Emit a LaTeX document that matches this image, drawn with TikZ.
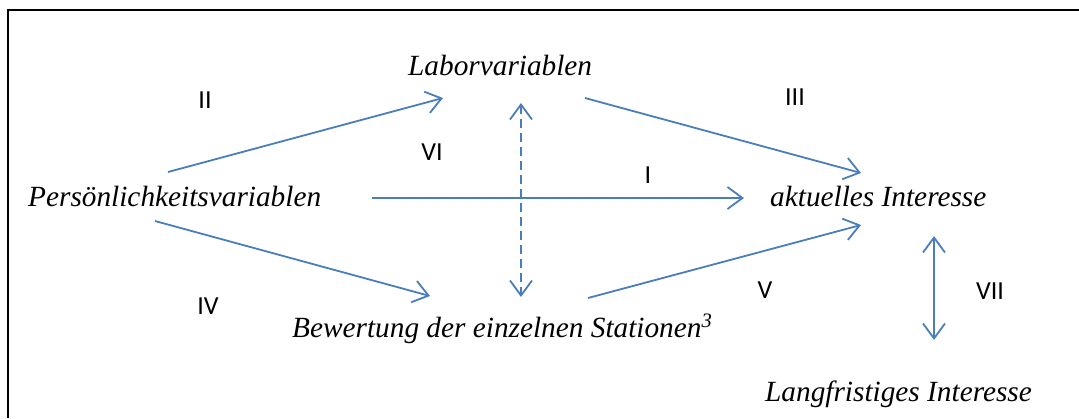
\documentclass[tikz,border=0pt]{standalone}
\usepackage{fontspec}
\setmainfont{Liberation Serif}
\newfontfamily\numfont{Carlito}
\usetikzlibrary{arrows.meta}
\definecolor{arrowblue}{HTML}{4A7EBB}
\tikzset{
  term/.style={inner sep=0pt, anchor=base west, font=\fontsize{29.3}{34}\selectfont\itshape},
  numlabel/.style={inner sep=0pt, font=\fontsize{26}{30}\selectfont\numfont},
  barb/.tip={Straight Barb[length=15pt,width=22pt,line width=1.8pt]},
  conn/.style={draw=arrowblue, line width=1.8pt, -barb},
  dconn/.style={draw=arrowblue, line width=1.8pt, barb-barb},
}
\begin{document}
\begin{tikzpicture}[x=1pt,y=-1pt]
\useasboundingbox (0,0) rectangle (1079,418);
\draw[line width=1.6pt] (1079,10) -- (8,10) -- (8,418);
% terms
\node[term] (pers) at (28,206) {Persönlichkeitsvariablen};
\node[term] (labor) at (408,75) {Laborvariablen};
\node[term] (akt) at (770,206) {aktuelles Interesse};
\node[term] (bew) at (292,337) {Bewertung der einzelnen Stationen\textsuperscript{3}};
\node[term] (lang) at (765,401) {Langfristiges Interesse};
% connector ends
\coordinate (IIs) at (168,172);
\coordinate (IIe) at (443,98);
\coordinate (IIIs) at (585,98);
\coordinate (IIIe) at (861,173);
\coordinate (Is) at (372,198);
\coordinate (Ie) at (744,198);
\coordinate (IVs) at (155,221);
\coordinate (IVe) at (430,296);
\coordinate (Vs) at (588,298);
\coordinate (Ve) at (861,225);
\coordinate (VIs) at (521,103);
\coordinate (VIe) at (521,297);
\coordinate (VIIs) at (934,236);
\coordinate (VIIe) at (934,340);
\draw[conn] (IIs) -- (IIe);
\draw[conn] (IIIs) -- (IIIe);
\draw[conn] (Is) -- (Ie);
\draw[conn] (IVs) -- (IVe);
\draw[conn] (Vs) -- (Ve);
\draw[dconn, dash pattern=on 9pt off 5pt] (VIs) -- (VIe);
\draw[dconn] (VIIs) -- (VIIe);
% labels
\node[numlabel] (lI) at (648,175) {I};
\node[numlabel] (lII) at (205,100) {II};
\node[numlabel] (lIII) at (795,97) {III};
\node[numlabel] (lIV) at (208,306) {IV};
\node[numlabel] (lV) at (765,290) {V};
\node[numlabel] (lVI) at (432,152) {VI};
\node[numlabel] (lVII) at (990,291) {VII};
\end{tikzpicture}
\end{document}
